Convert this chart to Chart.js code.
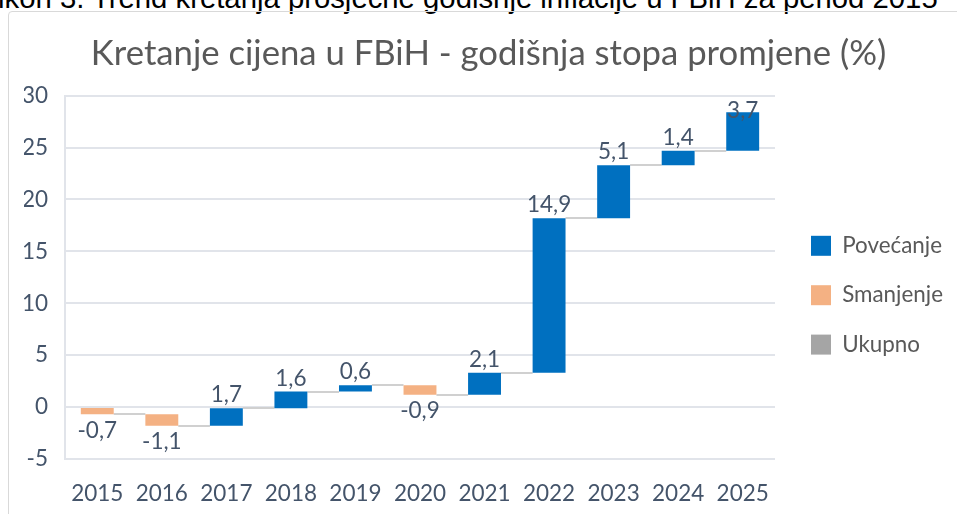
<!DOCTYPE html>
<html>
<head>
<meta charset="utf-8">
<script src="https://cdn.jsdelivr.net/npm/chart.js@4.4.0/dist/chart.umd.min.js"></script>
<style>
  html, body { margin: 0; padding: 0; width: 957px; height: 514px; overflow: hidden; background: #fff; }
  #caption { position: absolute; left: -2px; top: -17px; font: 29.3px "Liberation Sans", Arial, sans-serif; line-height: 1; white-space: nowrap; color: #000; }
  #frame { position: absolute; left: 8px; top: 11px; width: 962px; height: 516px; border: 1px solid #D9D9D9; border-radius: 4px; }
</style>
</head>
<body>
<div id="caption">ikon 3. Trend kretanja prosječne godišnje inflacije u FBiH za period 2015</div>
<div id="frame"><canvas id="waterfall" width="962" height="516"></canvas></div>
<script>
// godišnja stopa promjene, po godinama
const years = ['2015', '2016', '2017', '2018', '2019', '2020', '2021', '2022', '2023', '2024', '2025'];
const changes = [-0.7, -1.1, 1.7, 1.6, 0.6, -0.9, 2.1, 14.9, 5.1, 1.4, 3.7];
const yMin = -5, yMax = 30, yStep = 5;

// waterfall: svaka traka počinje gdje je prethodna završila
let level = 0;
const ends = [], rises = [], falls = [];
changes.forEach(v => {
  const from = level;
  level = Math.round((level + v) * 10) / 10;
  ends.push(level);
  rises.push(v > 0 ? [from, level] : null);
  falls.push(v < 0 ? [level, from] : null);
});

const textColor = '#44546A';
const fmt = v => v.toFixed(1).replace('.', ',');

const waterfallExtras = {
  id: 'waterfallExtras',
  beforeDatasetsDraw(chart) {
    const ctx = chart.ctx, y = chart.scales.y;
    const barOf = i => chart.getDatasetMeta(changes[i] > 0 ? 0 : 1).data[i];
    ctx.save();
    ctx.strokeStyle = '#D0D0D0';
    ctx.lineWidth = 2;
    for (let i = 0; i < changes.length - 1; i++) {
      const a = barOf(i), b = barOf(i + 1);
      const py = Math.round(y.getPixelForValue(ends[i]));
      ctx.beginPath();
      ctx.moveTo(a.x + a.width / 2, py);
      ctx.lineTo(b.x - b.width / 2, py);
      ctx.stroke();
    }
    ctx.restore();
  },
  afterDatasetsDraw(chart) {
    const ctx = chart.ctx, y = chart.scales.y, area = chart.chartArea;
    ctx.save();
    ctx.font = '22.5px Lato';
    ctx.fillStyle = textColor;
    ctx.textAlign = 'center';
    changes.forEach((v, i) => {
      const bar = chart.getDatasetMeta(v > 0 ? 0 : 1).data[i];
      if (v > 0) {
        ctx.textBaseline = 'bottom';
        // kao u Excelu: oznaka ostaje unutar površine grafa
        const py = Math.max(y.getPixelForValue(ends[i]) - 2, area.top + 26);
        ctx.fillText(fmt(v), bar.x, py);
      } else {
        ctx.textBaseline = 'top';
        ctx.fillText(fmt(v), bar.x, y.getPixelForValue(ends[i]) + 5);
      }
    });
    ctx.restore();
  }
};

new Chart(document.getElementById('waterfall'), {
  type: 'bar',
  data: {
    labels: years,
    datasets: [
      { label: 'Povećanje', data: rises, backgroundColor: '#0070C0' },
      { label: 'Smanjenje', data: falls, backgroundColor: '#F4B183' },
      { label: 'Ukupno', data: years.map(() => null), backgroundColor: '#A5A5A5' }
    ]
  },
  options: {
    responsive: false,
    animation: false,
    layout: { padding: { left: 15, right: 18, top: 0, bottom: 0 } },
    datasets: { bar: { grouped: false, barPercentage: 0.51, categoryPercentage: 1 } },
    scales: {
      x: {
        grid: { display: false, drawTicks: false },
        border: { display: false },
        ticks: { color: textColor, font: { family: 'Lato', size: 22.5 }, padding: 21 }
      },
      y: {
        min: yMin, max: yMax,
        grid: { color: '#E1E4EA', lineWidth: 2, drawTicks: false },
        border: { color: '#E1E4EA', width: 2 },
        ticks: { stepSize: yStep, color: textColor, font: { family: 'Lato', size: 22.5 }, padding: 17 },
        afterFit: s => { s.width = 41; }
      },
      // prazan razmak između grafa i legende
      gap: {
        type: 'linear', position: 'right', display: true,
        grid: { display: false, drawTicks: false }, border: { display: false },
        ticks: { display: false },
        afterFit: s => { s.width = 9; }
      }
    },
    plugins: {
      title: {
        display: true,
        text: 'Kretanje cijena u FBiH - godišnja stopa promjene (%)',
        color: '#595959',
        font: { family: 'Lato', size: 34.7, weight: 'normal' },
        padding: { top: 21, bottom: 21 }
      },
      legend: {
        position: 'right',
        maxWidth: 300,
        title: { display: true, text: ' ', font: { size: 12 }, padding: { top: 36, bottom: 0 } },
        labels: { boxWidth: 20, boxHeight: 20, padding: 27, color: '#595959', font: { family: 'Lato', size: 22.4 } }
      },
      tooltip: { enabled: false }
    }
  },
  plugins: [waterfallExtras]
});
</script>
</body>
</html>
